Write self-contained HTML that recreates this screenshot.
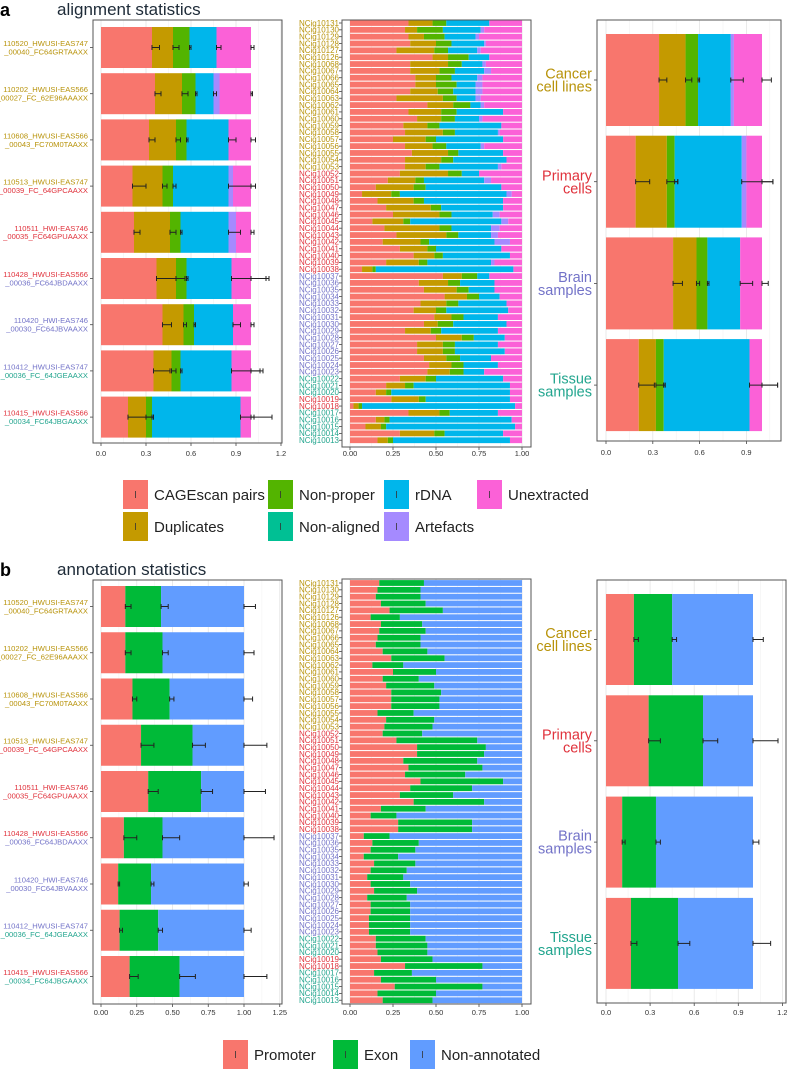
<!DOCTYPE html>
<html><head><meta charset="utf-8">
<style>
html,body{margin:0;padding:0;background:#fff;}
svg{display:block;font-family:"Liberation Sans",sans-serif;}
</style></head>
<body>
<svg id="fig" width="787" height="1072" viewBox="0 0 787 1072">
<text x="0" y="16" font-size="18" font-weight="bold" fill="#000">a</text>
<text x="57" y="15" font-size="17" fill="#1e2b38">alignment statistics</text>
<text x="0" y="576" font-size="18" font-weight="bold" fill="#000">b</text>
<text x="57" y="575" font-size="17" fill="#1e2b38">annotation statistics</text>
<g id="legA"></g>
<g id="legB"></g>
</svg>
<script>
// ---------- data ----------
const alignCats = ["CAGEscan pairs","Duplicates","Non-proper","Non-aligned","rDNA","Artefacts","Unextracted"];
const alignColors = ["#F8766D","#C49A00","#53B400","#00C094","#00B6EB","#A58AFF","#FB61D7"];
const annotCats = ["Promoter","Exon","Non-annotated"];
const annotColors = ["#F8766D","#00BA38","#619CFF"];

const runLabels1 = ["110520_HWUSI-EAS747","110202_HWUSI-EAS566","110608_HWUSI-EAS566","110513_HWUSI-EAS747","110511_HWI-EAS746","110428_HWUSI-EAS566","110420_HWI-EAS746","110412_HWUSI-EAS747","110415_HWUSI-EAS566"];
const runLabels2 = ["_00040_FC64GRTAAXX","_00027_FC_62E96AAAXX","_00043_FC70M0TAAXX","_00039_FC_64GPCAAXX","_00035_FC64GPUAAXX","_00036_FC64JBDAAXX","_00030_FC64JBVAAXX","_00036_FC_64JGEAAXX","_00034_FC64JBGAAXX"];
const runGroup1 = ["G","G","G","G","R","R","B","B","R"];
const runGroup2 = ["G","G","G","R","R","B","B","T","T"];

// top-left cumulative ends
const runCage = [0.34,0.36,0.32,0.21,0.22,0.37,0.41,0.35,0.18];
const runDup  = [0.48,0.54,0.50,0.41,0.46,0.50,0.55,0.47,0.30];
const runNP   = [0.59,0.63,0.57,0.48,0.53,0.57,0.62,0.53,0.34];
const runRdna = [0.77,0.75,0.85,0.85,0.85,0.87,0.88,0.87,0.93];
const runArt  = [0.77,0.79,0.85,0.88,0.90,0.87,0.88,0.87,0.93];
const runErrCage=[0.05,0.04,0.04,0.09,0.04,0.19,0.06,0.11,0.17];
const runErrDup =[0.04,0.04,0.03,0.03,0.04,0.06,0.02,0.03,0.04];
const runErrNP  =[0.01,0.01,0.01,0.02,0.01,0.01,0.01,0.01,0.01];
const runErrRdna=[0.03,0.02,0.05,0.18,0.08,0.23,0.05,0.19,0.09];
const runErrUnex=[0.02,0.01,0.03,0.03,0.02,0.12,0.02,0.08,0.14];

const libLabels = ["10131","10130","10129","10128","10127","10126","10068","10067","10066","10065","10064","10063","10062","10061","10060","10059","10058","10057","10056","10055","10054","10053","10052","10051","10050","10049","10048","10047","10046","10045","10044","10043","10042","10041","10040","10039","10038","10037","10036","10035","10034","10033","10032","10031","10030","10029","10028","10027","10026","10025","10024","10023","10022","10021","10020","10019","10018","10017","10016","10015","10014","10013"];
const libGroup = ["G","G","G","G","G","G","G","G","G","G","G","G","G","G","G","G","G","G","G","G","G","G","R","R","R","R","R","R","R","R","R","R","R","R","R","R","R","B","B","B","B","B","B","B","B","B","B","B","B","B","B","B","T","T","T","R","R","T","T","T","T","T"];
const libCage = [.34,.32,.34,.35,.27,.48,.35,.35,.38,.38,.35,.27,.45,.34,.39,.31,.32,.25,.32,.36,.32,.32,.29,.22,.15,.07,.16,.21,.25,.13,.20,.27,.19,.29,.37,.21,.07,.54,.40,.43,.55,.41,.37,.49,.43,.32,.50,.39,.39,.43,.46,.45,.29,.21,.15,.24,.02,.34,.15,.09,.29,.16];
const libDup  = [.48,.39,.43,.50,.49,.57,.57,.52,.50,.50,.51,.54,.60,.53,.53,.45,.54,.44,.48,.57,.53,.44,.57,.38,.37,.24,.37,.47,.52,.31,.52,.56,.41,.45,.49,.40,.13,.65,.57,.62,.68,.56,.50,.59,.51,.47,.65,.54,.54,.56,.59,.58,.44,.32,.21,.40,.05,.52,.20,.18,.49,.22];
const libNP   = [.56,.54,.55,.59,.57,.69,.65,.61,.59,.62,.60,.62,.70,.62,.61,.52,.61,.50,.56,.63,.60,.52,.65,.43,.44,.29,.43,.53,.59,.35,.59,.63,.46,.50,.54,.45,.15,.74,.64,.69,.75,.63,.56,.66,.60,.53,.72,.61,.61,.64,.66,.66,.50,.37,.24,.44,.07,.58,.23,.21,.55,.25];
const libRdna = [.81,.76,.73,.78,.74,.81,.77,.78,.74,.73,.73,.73,.76,.89,.75,.88,.86,.89,.76,.89,.91,.86,.75,.78,.88,.91,.89,.89,.83,.88,.82,.82,.84,.88,.93,.82,.95,.81,.84,.84,.87,.91,.92,.86,.91,.86,.90,.86,.90,.82,.86,.78,.89,.93,.93,.93,.96,.86,.94,.96,.89,.93];
const libArt  = [.81,.78,.75,.79,.76,.81,.79,.82,.77,.77,.77,.76,.78,.89,.77,.88,.87,.89,.78,.89,.91,.88,.75,.82,.88,.94,.89,.89,.87,.92,.87,.86,.93,.88,.93,.84,.95,.81,.84,.84,.87,.91,.92,.86,.91,.86,.90,.86,.90,.82,.86,.78,.89,.93,.93,.93,.96,.86,.94,.96,.89,.93];

const tisLabels1 = ["Cancer","Primary","Brain","Tissue"];
const tisLabels2 = ["cell lines","cells","samples","samples"];
const tisGroup = ["G","R","B","T"];
const tisCage = [0.34,0.19,0.43,0.21];
const tisDup  = [0.51,0.39,0.58,0.32];
const tisNP   = [0.59,0.44,0.65,0.37];
const tisRdna = [0.80,0.87,0.86,0.92];
const tisArt  = [0.82,0.90,0.86,0.92];
const tisErrCage=[0.05,0.09,0.06,0.10];
const tisErrDup =[0.04,0.07,0.02,0.05];
const tisErrNP  =[0.01,0.02,0.01,0.01];
const tisErrRdna=[0.08,0.20,0.08,0.18];
const tisErrUnex=[0.06,0.07,0.04,0.10];

// annotation
const runProm = [0.17,0.17,0.22,0.28,0.33,0.16,0.12,0.13,0.20];
const runExon = [0.42,0.43,0.48,0.64,0.70,0.43,0.35,0.40,0.55];
const runErrProm = [0.04,0.04,0.03,0.09,0.07,0.09,0.01,0.02,0.06];
const runErrExon = [0.05,0.04,0.03,0.09,0.08,0.12,0.02,0.03,0.11];
const runErrNon  = [0.08,0.07,0.06,0.16,0.15,0.21,0.03,0.05,0.16];

const libProm = [.17,.16,.15,.18,.23,.12,.18,.17,.16,.15,.19,.24,.13,.25,.19,.21,.24,.24,.24,.16,.21,.20,.19,.27,.39,.39,.31,.34,.32,.41,.35,.29,.37,.18,.12,.28,.28,.08,.13,.12,.08,.14,.12,.10,.12,.14,.10,.12,.12,.11,.11,.11,.15,.15,.16,.18,.32,.14,.18,.26,.16,.19];
const libExon = [.43,.41,.41,.44,.54,.29,.42,.44,.41,.41,.45,.55,.31,.50,.40,.49,.53,.52,.52,.37,.49,.48,.42,.74,.79,.78,.74,.77,.67,.89,.71,.60,.78,.44,.27,.71,.71,.23,.40,.38,.28,.38,.33,.31,.35,.39,.33,.35,.35,.35,.35,.35,.44,.45,.45,.48,.77,.36,.50,.77,.50,.48];

const tisProm = [0.19,0.29,0.11,0.17];
const tisExon = [0.45,0.66,0.34,0.49];
const tisErrProm = [0.03,0.08,0.02,0.04];
const tisErrExon = [0.03,0.10,0.03,0.08];
const tisErrNon  = [0.07,0.17,0.04,0.12];

const groupColor = {G:"#b8930a",R:"#e0323c",B:"#7373c8",T:"#22a58e"};
const ticks12 = [0,0.3,0.6,0.9,1.2];
const ticks12Lab = ["0.0","0.3","0.6","0.9","1.2"];
const ticks125 = [0,0.25,0.5,0.75,1.0,1.25];
const ticks125Lab = ["0.00","0.25","0.50","0.75","1.00","1.25"];
const ticks1 = [0,0.25,0.5,0.75,1.0];
const ticks1Lab = ["0.00","0.25","0.50","0.75","1.00"];

// ---------- drawing ----------
const NS="http://www.w3.org/2000/svg";
const svg=document.getElementById('fig');
function mk(tag,attrs,parent){const e=document.createElementNS(NS,tag);for(const k in attrs)e.setAttribute(k,attrs[k]);(parent||svg).appendChild(e);return e;}

function panel(name,x1,y1,x2,y2,x0,sc,ticks,labs,tickY,maxV){
  const g=mk('g',{});
  
  
  mk('rect',{x:x1,y:y1,width:x2-x1,height:y2-y1,fill:'#fff'},g);
  const xs=v=>x0+v*sc;
  for(let i=0;i<ticks.length;i++){
    const t=ticks[i];
    if(xs(t)<x2) mk('line',{x1:xs(t),x2:xs(t),y1:y1,y2:y2,stroke:'#e4e4e4','stroke-width':0.8},g);
    if(i<ticks.length-1){const m=(t+ticks[i+1])/2; if(xs(m)<x2) mk('line',{x1:xs(m),x2:xs(m),y1:y1,y2:y2,stroke:'#f2f2f2','stroke-width':0.6},g);}
    if(xs(t)<=x2+2){
      mk('line',{x1:xs(t),x2:xs(t),y1:y2,y2:y2+3,stroke:'#444','stroke-width':0.8},g);
      const tx=mk('text',{x:xs(t),y:tickY,'font-size':7.5,'text-anchor':'middle',fill:'#333'},g);
      tx.textContent=labs[i];
      
      
    }
  }
  return {g,xs,frame:()=>{const r=mk('rect',{x:x1,y:y1,width:x2-x1,height:y2-y1,fill:'none',stroke:'#555','stroke-width':1},g);}};
}

function stackRow(P,cum,colors,y,h,rowName){
  let prev=0;
  for(let k=0;k<cum.length;k++){
    const w=(cum[k]-prev)*(P.xs(1)-P.xs(0));
    if(w>0){
      const r=mk('rect',{x:P.xs(prev),y:y,width:w,height:h,fill:colors[k]},P.g);
      
      
    }
    prev=cum[k];
  }
}
function errbar(P,v,e,cy){
  const a=P.xs(v),b=P.xs(v+e);
  mk('line',{x1:a,x2:b,y1:cy,y2:cy,stroke:'#222','stroke-width':1},P.g);
  mk('line',{x1:a,x2:a,y1:cy-2.5,y2:cy+2.5,stroke:'#222','stroke-width':1},P.g);
  mk('line',{x1:b,x2:b,y1:cy-2.5,y2:cy+2.5,stroke:'#222','stroke-width':1},P.g);
}
function ytick(P,x,cy){mk('line',{x1:x-3,x2:x,y1:cy,y2:cy,stroke:'#444','stroke-width':0.8},P.g);}
function label2(P,x,cy,l1,l2,c1,c2,fs,gap){
  const t1=mk('text',{x:x,y:cy-gap/2+fs*0.35,'font-size':fs,'text-anchor':'end',fill:c1},P.g);t1.textContent=l1;
  
  
  const t2=mk('text',{x:x,y:cy+gap/2+fs*0.35,'font-size':fs,'text-anchor':'end',fill:c2},P.g);t2.textContent=l2;
  
  
}

// Top-left
(function(){
  const P=panel('alignment-by-run-panel',93,20,282,443,101,150,ticks12,ticks12Lab,456);
  for(let i=0;i<runCage.length;i++){
    const y=27+i*46.2,cy=y+20.5;
    stackRow(P,[runCage[i],runDup[i],runNP[i],runNP[i],runRdna[i],runArt[i],1],alignColors,y,41,'run-bar-'+i);
    errbar(P,runCage[i],runErrCage[i],cy);errbar(P,runDup[i],runErrDup[i],cy);errbar(P,runNP[i],runErrNP[i],cy);
    errbar(P,runRdna[i],runErrRdna[i],cy);errbar(P,1,runErrUnex[i],cy);
    ytick(P,93,cy);
    label2(P,88,cy,runLabels1[i],runLabels2[i],groupColor[runGroup1[i]],groupColor[runGroup2[i]],7.6,8.4);
  }
  P.frame();
})();
// Top-mid
(function(){
  const P=panel('alignment-by-library-panel',342,20,531,447,350,172,ticks1,ticks1Lab,456);
  for(let i=0;i<libCage.length;i++){
    const cy=23+i*6.84;
    stackRow(P,[libCage[i],libDup[i],libNP[i],libNP[i],libRdna[i],libArt[i],1],alignColors,cy-2.9,5.8,'lib-bar-'+i);
    ytick(P,342,cy);
    const t=mk('text',{x:339,y:cy+2.8,'font-size':8,'text-anchor':'end',fill:groupColor[libGroup[i]]},P.g);
    t.textContent='NCig'+libLabels[i];
    
    
  }
  P.frame();
})();
// Top-right
(function(){
  const P=panel('alignment-by-tissue-panel',597,20,781,441,606,156,ticks12,ticks12Lab,455);
  for(let i=0;i<tisCage.length;i++){
    const y=34+i*101.7,cy=y+46;
    stackRow(P,[tisCage[i],tisDup[i],tisNP[i],tisNP[i],tisRdna[i],tisArt[i],1],alignColors,y,92,'tissue-bar-'+i);
    errbar(P,tisCage[i],tisErrCage[i],cy);errbar(P,tisDup[i],tisErrDup[i],cy);errbar(P,tisNP[i],tisErrNP[i],cy);
    errbar(P,tisRdna[i],tisErrRdna[i],cy);errbar(P,1,tisErrUnex[i],cy);
    ytick(P,597,cy);
    label2(P,592,cy,tisLabels1[i],tisLabels2[i],groupColor[tisGroup[i]],groupColor[tisGroup[i]],14.5,13);
  }
  P.frame();
})();
// Bottom-left
(function(){
  const P=panel('annotation-by-run-panel',93,580,282,1004,101,143,ticks125,ticks125Lab,1015);
  for(let i=0;i<runProm.length;i++){
    const y=586+i*46.25,cy=y+20.5;
    stackRow(P,[runProm[i],runExon[i],1],annotColors,y,41,'annot-run-bar-'+i);
    errbar(P,runProm[i],runErrProm[i],cy);errbar(P,runExon[i],runErrExon[i],cy);errbar(P,1,runErrNon[i],cy);
    ytick(P,93,cy);
    label2(P,88,cy,runLabels1[i],runLabels2[i],groupColor[runGroup1[i]],groupColor[runGroup2[i]],7.6,8.4);
  }
  P.frame();
})();
// Bottom-mid
(function(){
  const P=panel('annotation-by-library-panel',342,579,531,1004,350,172,ticks1,ticks1Lab,1015);
  for(let i=0;i<libProm.length;i++){
    const cy=583+i*6.84;
    stackRow(P,[libProm[i],libExon[i],1],annotColors,cy-2.9,5.8,'annot-lib-bar-'+i);
    ytick(P,342,cy);
    const t=mk('text',{x:339,y:cy+2.8,'font-size':8,'text-anchor':'end',fill:groupColor[libGroup[i]]},P.g);
    t.textContent='NCig'+libLabels[i];
    
    
  }
  P.frame();
})();
// Bottom-right
(function(){
  const P=panel('annotation-by-tissue-panel',597,580,786,1003,606,147,ticks12,ticks12Lab,1015);
  for(let i=0;i<tisProm.length;i++){
    const y=594+i*101.3,cy=y+45.5;
    stackRow(P,[tisProm[i],tisExon[i],1],annotColors,y,91,'annot-tissue-bar-'+i);
    errbar(P,tisProm[i],tisErrProm[i],cy);errbar(P,tisExon[i],tisErrExon[i],cy);errbar(P,1,tisErrNon[i],cy);
    ytick(P,597,cy);
    label2(P,592,cy,tisLabels1[i],tisLabels2[i],groupColor[tisGroup[i]],groupColor[tisGroup[i]],14.5,13);
  }
  P.frame();
})();

// Legends
function legendItem(parent,x,y,color,label,name){
  const g=mk('g',{},parent);
  
  
  mk('rect',{x:x,y:y,width:25,height:29,fill:color},g);
  mk('line',{x1:x+12.5,x2:x+12.5,y1:y+11,y2:y+18,stroke:'#333','stroke-width':0.8},g);
  const t=mk('text',{x:x+31,y:y+20,'font-size':15,fill:'#222'},g);t.textContent=label;
}
const legA=document.getElementById('legA');
const legPos=[[123,480],[123,512],[268,480],[268,512],[384,480],[384,512],[477,480]];
for(let i=0;i<alignCats.length;i++){legendItem(legA,legPos[i][0],legPos[i][1],alignColors[i],alignCats[i],'legend-'+alignCats[i].toLowerCase().replace(/[^a-z]+/g,'-'));}
const legB=document.getElementById('legB');
const legBPos=[223,333,410];
for(let i=0;i<annotCats.length;i++){legendItem(legB,legBPos[i],1040,annotColors[i],annotCats[i],'legend-'+annotCats[i].toLowerCase().replace(/[^a-z]+/g,'-'));}
</script>
</body></html>
